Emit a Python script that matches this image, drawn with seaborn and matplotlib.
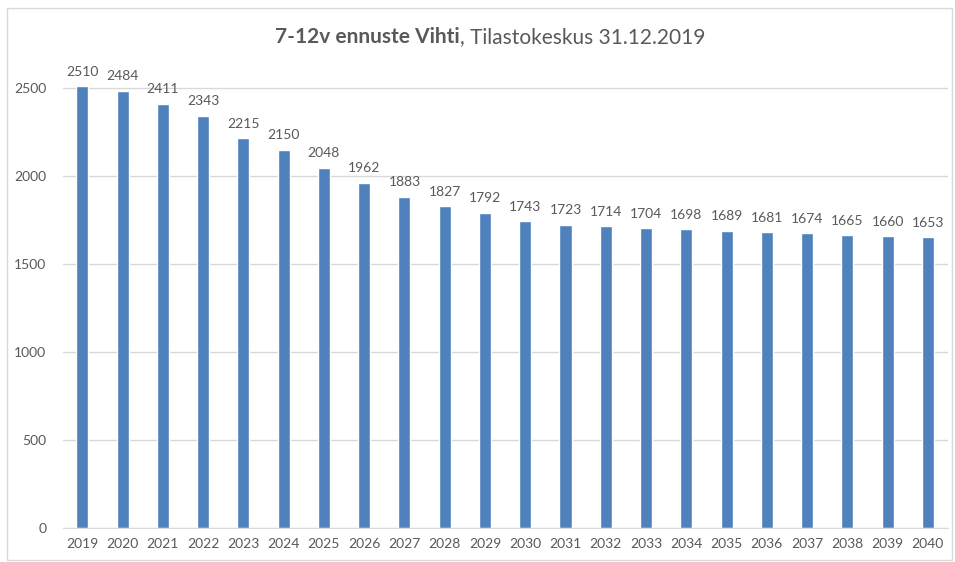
import matplotlib
matplotlib.use('Agg')
import matplotlib.pyplot as plt
import pandas as pd
import seaborn as sns
from matplotlib.patches import Rectangle

years = [str(y) for y in range(2019, 2041)]
values = [2510, 2484, 2411, 2343, 2215, 2150, 2048, 1962, 1883, 1827, 1792,
          1743, 1723, 1714, 1704, 1698, 1689, 1681, 1674, 1665, 1660, 1653]
yticks = [0, 500, 1000, 1500, 2000, 2500]

df = pd.DataFrame({'vuosi': years, 'lkm': values})

sns.set_style('white')
plt.rcParams['font.family'] = ['Lato', 'DejaVu Sans']
text_col = '#595959'

fig = plt.figure(figsize=(9.55, 5.62), dpi=100)
ax = fig.add_axes([63 / 955, 1 - 528 / 562, (948 - 63) / 955, (528 - 60) / 562])

sns.barplot(data=df, x='vuosi', y='lkm', color='#4F81BD', saturation=1,
            width=0.3, ax=ax)

ax.set_ylim(0, 2500 * 468 / 440)
ax.set_xlim(-0.48, len(years) - 0.5)
ax.set_yticks(yticks)
ax.yaxis.grid(True, color='#D9D9D9', linewidth=1)
ax.set_axisbelow(True)
for s in ['top', 'right', 'left']:
    ax.spines[s].set_visible(False)
ax.spines['bottom'].set_color('#D9D9D9')
ax.tick_params(axis='both', length=0, labelsize=10, colors=text_col)
ax.tick_params(axis='y', pad=12)
ax.tick_params(axis='x', pad=7)
ax.set_xlabel('')
ax.set_ylabel('')

# data labels
for i, v in enumerate(values):
    ax.annotate(str(v), (i, v), xytext=(0, 6), textcoords='offset points',
                ha='center', va='bottom', fontsize=10, color=text_col)

# title: bold part + normal part, centred together
t1 = fig.text(0.0, 0.0, '7-12v ennuste Vihti', fontsize=15, fontweight='bold',
              color=text_col, va='center')
t2 = fig.text(0.0, 0.0, ', Tilastokeskus 31.12.2019', fontsize=15,
              color=text_col, va='center')
fig.canvas.draw()
r = fig.canvas.get_renderer()
w1 = t1.get_window_extent(r).width
w2 = t2.get_window_extent(r).width
x0 = (490 - (w1 + w2) / 2) / 955
ty = 1 - 37 / 562
t1.set_position((x0, ty))
t2.set_position((x0 + w1 / 955, ty))

# chart frame
fig.patches.append(Rectangle((7 / 955, 2 / 562), 945 / 955, 552 / 562,
                             transform=fig.transFigure, fill=False,
                             edgecolor='#D9D9D9', linewidth=1))

fig.savefig('out.png', dpi=100)
